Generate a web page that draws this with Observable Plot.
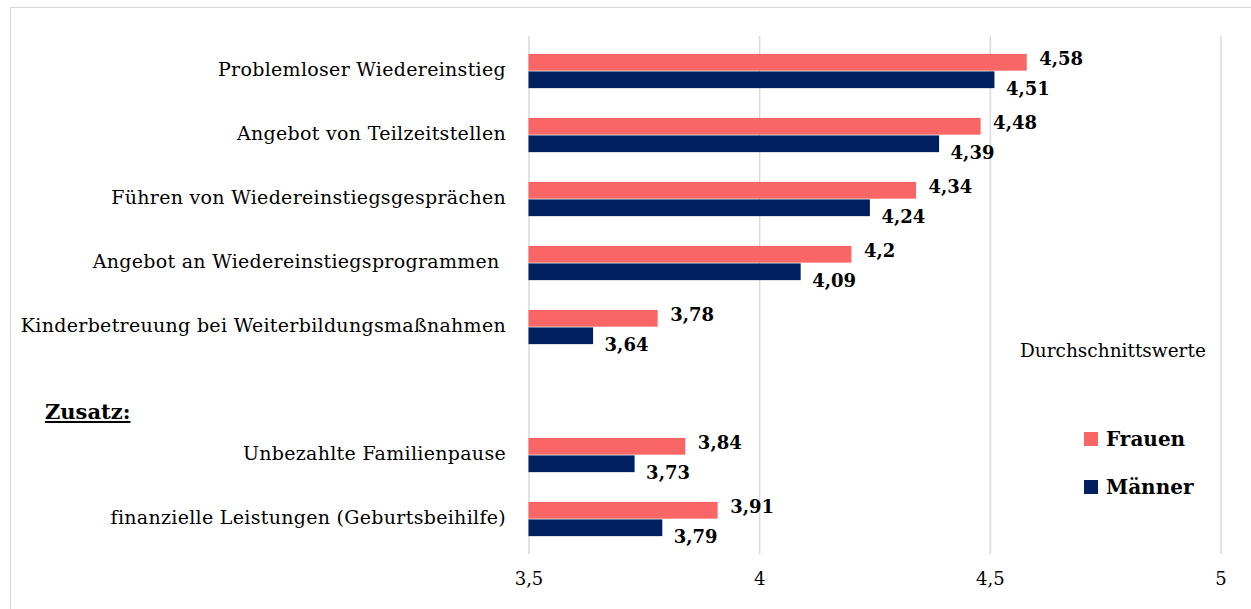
<!DOCTYPE html>
<html>
<head>
<meta charset="utf-8">
<script src="https://cdn.jsdelivr.net/npm/d3@7"></script>
<script src="https://cdn.jsdelivr.net/npm/@observablehq/plot@0.6"></script>
<style>
  html, body { margin: 0; padding: 0; background: #fff; }
  #wrap { position: relative; width: 1251px; height: 609px; overflow: hidden; font-family: "DejaVu Serif", serif; }
  #frame { position: absolute; left: 10px; top: 7px; right: -2px; bottom: -2px; border-top: 1.5px solid #d9d9d9; border-left: 1.5px solid #d9d9d9; }
  #chart { position: absolute; left: 0; top: 0; }
  .ov { position: absolute; white-space: nowrap; color: #000; }
  #zusatz { left: 45px; top: 399px; font-size: 21px; font-weight: bold; text-decoration: underline; }
  #durch { left: 1020px; top: 340px; font-size: 18.5px; }
  .leg { left: 1084px; font-size: 20px; font-weight: bold; display: flex; align-items: center; }
  .leg span.sw { display: inline-block; width: 14px; height: 14px; margin-right: 8px; }
</style>
</head>
<body>
<div id="wrap">
  <div id="frame"></div>
  <div id="chart"></div>
  <div class="ov" id="zusatz">Zusatz:</div>
  <div class="ov" id="durch">Durchschnittswerte</div>
  <div class="ov leg" id="legF" style="top:427px"><span class="sw" style="background:#fa6565"></span>Frauen</div>
  <div class="ov leg" id="legM" style="top:475px"><span class="sw" style="background:#002060"></span>Männer</div>
</div>
<script>
const categories = [
  "Problemloser Wiedereinstieg",
  "Angebot von Teilzeitstellen",
  "Führen von Wiedereinstiegsgesprächen",
  "Angebot an Wiedereinstiegsprogrammen ",
  "Kinderbetreuung bei Weiterbildungsmaßnahmen",
  "Unbezahlte Familienpause",
  "finanzielle Leistungen (Geburtsbeihilfe)"
];
const frauen  = [4.58, 4.48, 4.34, 4.2, 3.78, 3.84, 3.91];
const maenner = [4.51, 4.39, 4.24, 4.09, 3.64, 3.73, 3.79];
const xTicks = [3.5, 4, 4.5, 5];
const spacer = " ";
const yDomain = [...categories.slice(0, 5), spacer, ...categories.slice(5)];

const colF = "#fa6565";
const colM = "#002060";
const fmt = v => String(v).replace(".", ",");

const rows = categories.map((c, i) => ({cat: c, frauen: frauen[i], maenner: maenner[i]}));

const chart = Plot.plot({
  width: 1251,
  height: 609,
  marginLeft: 528.5,
  marginRight: 30.5,
  marginTop: 36,
  marginBottom: 55,
  style: {fontFamily: "DejaVu Serif, serif", fontSize: "18px", color: "#000", background: "transparent"},
  x: {domain: [3.5, 5], label: null},
  y: {domain: yDomain, padding: 0, label: null},
  marks: [
    Plot.gridX(xTicks, {stroke: "#d9d9d9", strokeOpacity: 1, strokeWidth: 1.5}),
    Plot.axisX({ticks: xTicks, tickSize: 0, tickPadding: 18, tickFormat: fmt, fontSize: 18, label: null}),
    Plot.axisY({tickSize: 0, tickPadding: 23, fontSize: 19, dy: -2, label: null}),
    Plot.barX(rows, {x: "frauen", y: "cat", fill: colF, insetTop: 14.9, insetBottom: 32.35, clip: true}),
    Plot.barX(rows, {x: "maenner", y: "cat", fill: colM, insetTop: 32.4, insetBottom: 14.85, clip: true}),
    Plot.text(rows, {x: "frauen", y: "cat", text: d => fmt(d.frauen), textAnchor: "start", dx: 12, dy: -12, fontWeight: "bold", fontSize: 18}),
    Plot.text(rows, {x: "maenner", y: "cat", text: d => fmt(d.maenner), textAnchor: "start", dx: 11, dy: 18, fontWeight: "bold", fontSize: 18})
  ]
});
d3.select(chart).selectAll('[aria-label="y-axis tick label"] text').style("letter-spacing", "0.3px");
document.getElementById("chart").appendChild(chart);
</script>
</body>
</html>
